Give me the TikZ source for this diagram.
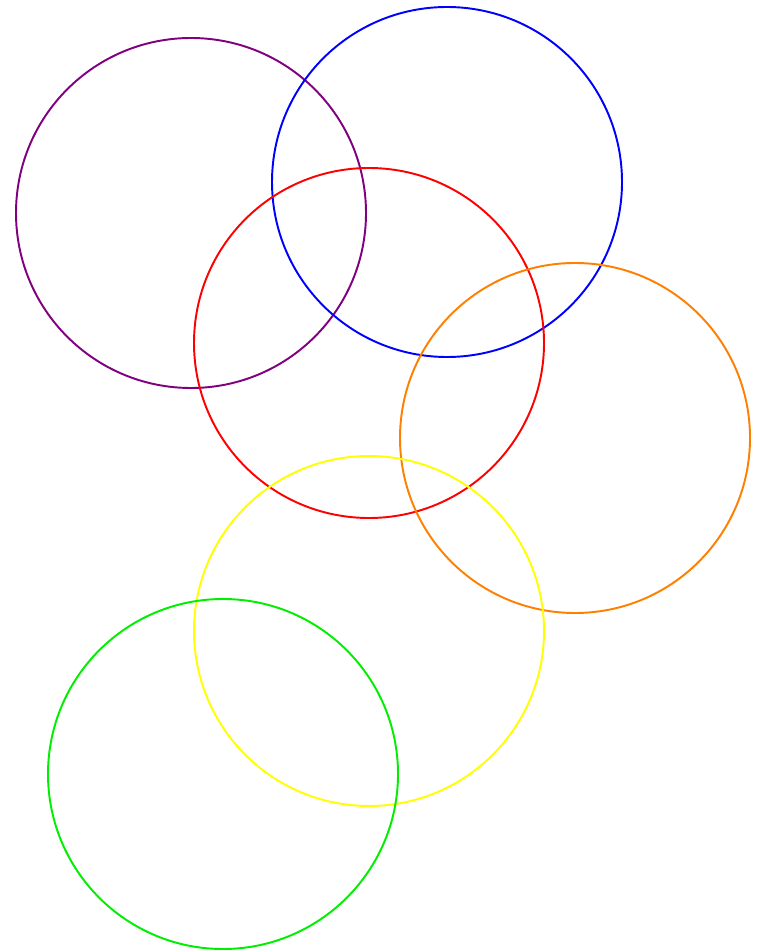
\documentclass[tikz,border=0pt]{standalone}
\usepackage{tikz}
\definecolor{ringpurple}{RGB}{128,0,128}
\definecolor{ringorange}{RGB}{255,128,0}
\definecolor{ringyellow}{RGB}{255,255,0}
\definecolor{ringgreen}{RGB}{0,238,0}
\begin{document}
\begin{tikzpicture}[x=0.02cm, y=-0.02cm, line width=1.1pt,
		ring/.style={draw, fill=none}]
	\def\rr{175} % radius of every ring, in px
	% page frame
	\useasboundingbox (0,0) rectangle (757,952);
	% rings
	\draw[ring, ringpurple] (191,213) circle (\rr);
	\draw[ring, blue] (447,182) circle (\rr);
	\draw[ring, red] (369,343) circle (\rr);
	\draw[ring, ringorange] (575,438) circle (\rr);
	\draw[ring, ringyellow] (369,631) circle (\rr);
	\draw[ring, ringgreen] (223,774) circle (\rr);
\end{tikzpicture}
\end{document}
